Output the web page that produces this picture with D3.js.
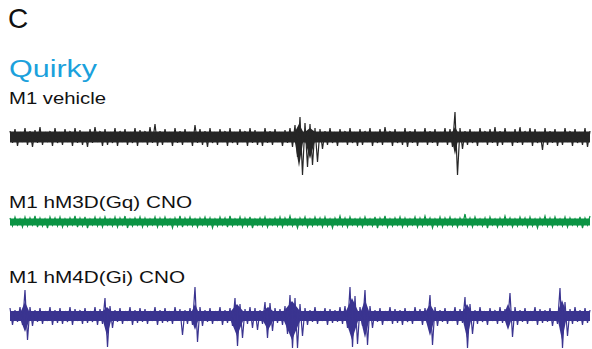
<!DOCTYPE html>
<html>
<head>
<meta charset="utf-8">
<script src="https://cdn.jsdelivr.net/npm/d3@7"></script>
<style>
  body { margin: 0; background: #fff; }
  text { font-family: "Liberation Sans", Arial, sans-serif; }
</style>
</head>
<body>
<div id="chart"></div>
<script>
// sample step of the envelope (s)
const step = 0.1;

// M1 vehicle - upper / lower peaks per sample, solid noise floor, dense bursts [t, up, down, half width]
const vehCore = 5.5;
const vehTop = [6,8,5,9,6,7,10,5,6,9,
  5,8,6,9,7,5,8,10,6,8,
  5,9,6,8,5,9,7,6,10,13,
  6,8,5,9,6,8,5,12,8,6,
  9,5,8,6,9,5,8,6,9,7,
  5,9,6,8,5,7,9,12,20,14,
  13,9,8,6,9,5,8,6,9,5,
  8,6,9,5,8,10,6,8,5,9,
  6,8,5,9,6,8,5,9,8,25,
  9,6,8,5,9,6,8,10,6,9,
  5,8,10,6,9,8,5,9,6,8,
  5,9,6,8,5,9,6];
const vehBot = [-6,-9,-5,-8,-10,-6,-8,-5,-9,-6,
  -8,-5,-9,-6,-8,-10,-6,-5,-9,-8,
  -6,-9,-5,-8,-6,-9,-5,-8,-6,-9,
  -8,-5,-9,-6,-8,-5,-9,-6,-8,-10,
  -6,-8,-5,-9,-6,-8,-5,-9,-6,-8,
  -9,-6,-8,-5,-9,-6,-10,-20,-38,-30,
  -28,-25,-12,-8,-6,-9,-5,-8,-6,-9,
  -8,-5,-9,-6,-8,-5,-9,-6,-8,-10,
  -6,-9,-5,-8,-6,-9,-5,-8,-10,-38,
  -12,-8,-6,-9,-5,-8,-6,-9,-8,-5,
  -9,-6,-8,-5,-9,-6,-13,-8,-6,-9,
  -8,-5,-9,-6,-8,-10,-6];
const vehBursts = [[5.78, 13, -30, 0.08], [6.0, 9, -22, 0.09], [8.9, 10, -18, 0.05]];

// M1 hM3D(Gq) CNO
const gqCore = 3.5;
const gqTop = [4,5,3,5,4,6,4,3,5,4,
  5,3,4,6,4,5,3,5,4,5,
  3,5,4,6,3,4,5,4,3,5,
  4,5,3,4,6,4,5,3,4,5,
  4,3,5,4,6,3,5,4,5,3,
  4,5,3,4,5,4,6,3,4,5,
  3,5,4,5,3,4,6,4,5,3,
  4,5,3,5,4,6,3,4,5,4,
  3,5,4,6,4,3,5,4,5,3,
  4,8,4,5,3,4,5,3,4,6,
  4,3,5,4,5,3,4,6,4,5,
  3,5,4,3,5,4,6];
const gqBot = [-4,-3,-5,-4,-3,-5,-4,-6,-3,-4,
  -5,-4,-3,-5,-4,-6,-3,-4,-5,-3,
  -4,-5,-3,-6,-4,-3,-5,-4,-3,-5,
  -4,-3,-6,-4,-5,-3,-4,-5,-3,-4,
  -6,-4,-3,-5,-4,-3,-5,-4,-6,-3,
  -4,-5,-3,-4,-5,-3,-4,-6,-3,-5,
  -4,-3,-5,-4,-6,-3,-4,-5,-3,-4,
  -5,-3,-4,-6,-3,-5,-4,-3,-5,-4,
  -3,-5,-4,-3,-6,-4,-5,-3,-4,-5,
  -3,-4,-5,-3,-4,-6,-3,-5,-4,-3,
  -5,-4,-3,-5,-4,-6,-3,-4,-5,-3,
  -4,-5,-3,-4,-6,-3,-5];
const gqBursts = [];

// M1 hM4D(Gi) CNO
const giCore = 5;
const giTop = [8,6,9,26,9,6,8,5,9,6,
  8,5,9,7,6,8,5,9,7,18,
  10,6,8,5,9,6,8,7,5,9,
  6,8,5,9,7,6,8,29,9,6,
  8,5,9,6,8,18,12,7,9,8,
  6,14,13,8,7,10,21,18,12,8,
  6,9,5,8,7,6,9,10,29,20,
  9,26,10,6,8,5,9,7,6,8,
  5,9,7,8,21,9,6,8,5,9,
  7,19,12,6,9,5,8,6,9,7,
  23,9,6,8,5,9,7,6,8,5,
  28,14,7,9,6,8,6];
const giBot = [-9,-6,-9,-24,-10,-6,-8,-5,-9,-7,
  -8,-6,-9,-5,-8,-7,-6,-9,-8,-31,
  -12,-6,-8,-5,-9,-7,-6,-8,-5,-9,
  -7,-6,-8,-5,-19,-8,-9,-26,-10,-6,
  -8,-5,-9,-7,-10,-30,-22,-8,-12,-14,
  -8,-22,-15,-7,-9,-18,-32,-32,-20,-9,
  -6,-8,-5,-9,-7,-6,-8,-12,-31,-28,
  -10,-29,-12,-6,-9,-5,-8,-7,-9,-6,
  -8,-5,-9,-7,-29,-10,-6,-8,-5,-9,
  -7,-32,-18,-8,-6,-9,-5,-8,-7,-9,
  -21,-9,-6,-8,-5,-9,-7,-6,-10,-8,
  -32,-20,-8,-6,-9,-7,-8];
const giBursts = [[0.3, 14, -16, 0.08], [1.94, 9, -20, 0.08], [3.7, 12, -14, 0.06],
  [4.54, 12, -20, 0.12], [5.16, 9, -14, 0.1], [5.64, 15, -24, 0.16],
  [6.84, 18, -24, 0.12], [7.1, 16, -22, 0.08], [8.4, 12, -20, 0.08],
  [9.14, 12, -22, 0.08], [9.96, 12, -14, 0.06], [11.04, 16, -24, 0.08]];

const traces = [
  {label: "M1 vehicle", top: vehTop, bot: vehBot, core: vehCore, bursts: vehBursts, color: "#262626", mid: 137, labelY: 104, labelW: 97},
  {label: "M1 hM3D(Gq) CNO", top: gqTop, bot: gqBot, core: gqCore, bursts: gqBursts, color: "#0b9444", mid: 222, labelY: 208, labelW: 183},
  {label: "M1 hM4D(Gi) CNO", top: giTop, bot: giBot, core: giCore, bursts: giBursts, color: "#3a3490", mid: 316, labelY: 283, labelW: 176}
];

const width = 592, height = 349;

const svg = d3.select("#chart").append("svg")
  .attr("width", width)
  .attr("height", height);

// panel letter + title
svg.append("text")
  .attr("x", 8).attr("y", 28)
  .attr("font-size", 28)
  .attr("fill", "#111")
  .text("C");

svg.append("text")
  .attr("x", 9).attr("y", 77)
  .attr("font-size", 23)
  .attr("fill", "#1ba1dc")
  .attr("textLength", 88)
  .attr("lengthAdjust", "spacingAndGlyphs")
  .text("Quirky");

traces.forEach(function(tr) {
  const n = tr.top.length;
  const x = d3.scaleLinear()
    .domain([0, (n - 1) * step])
    .range([10, 590]);
  // 1 unit of amplitude = 1 px
  const y = d3.scaleLinear()
    .domain([-40, 40])
    .range([tr.mid + 40, tr.mid - 40]);

  // solid noise floor
  svg.append("rect")
    .attr("x", x(0))
    .attr("width", x((n - 1) * step) - x(0))
    .attr("y", y(tr.core))
    .attr("height", y(-tr.core) - y(tr.core))
    .attr("fill", tr.color);

  // dense bursts
  const burstArea = d3.area()
    .x(d => x(d[0]))
    .y0(d => y(d[2]))
    .y1(d => y(d[1]));

  tr.bursts.forEach(function(b) {
    const shape = [
      [b[0] - b[3], tr.core, -tr.core],
      [b[0], b[1], b[2]],
      [b[0] + b[3], tr.core, -tr.core]
    ];
    svg.append("path")
      .datum(shape)
      .attr("d", burstArea)
      .attr("fill", tr.color);
  });

  // trace: up peak then down peak within each sample
  const pts = [];
  tr.top.forEach(function(v, i) {
    pts.push([i * step, v]);
    if (i < n - 1) pts.push([i * step + step / 2, tr.bot[i]]);
  });

  const line = d3.line()
    .x(d => x(d[0]))
    .y(d => y(d[1]));

  svg.append("path")
    .datum(pts)
    .attr("d", line)
    .attr("fill", "none")
    .attr("stroke", tr.color)
    .attr("stroke-width", 1.2)
    .attr("stroke-linejoin", "miter");

  svg.append("text")
    .attr("x", 9).attr("y", tr.labelY)
    .attr("font-size", 16.3)
    .attr("fill", "#111")
    .attr("textLength", tr.labelW)
    .attr("lengthAdjust", "spacingAndGlyphs")
    .text(tr.label);
});
</script>
</body>
</html>
